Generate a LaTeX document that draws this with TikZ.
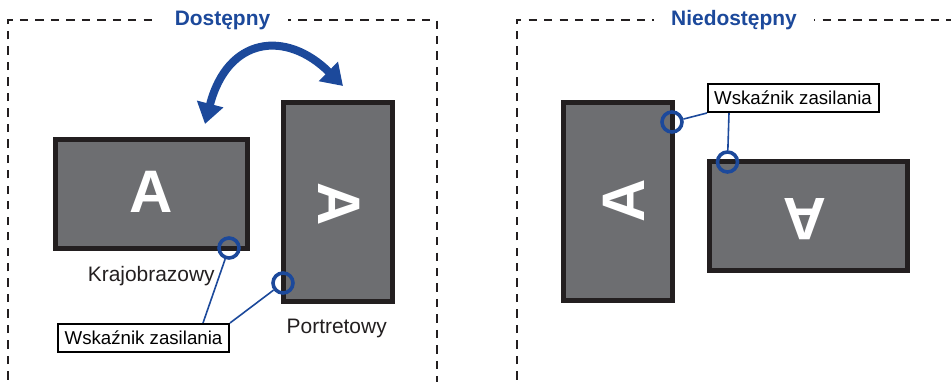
\documentclass[tikz,border=0pt]{standalone}
\usepackage{fontspec}
\setmainfont{Liberation Sans}
\usetikzlibrary{arrows.meta}
\definecolor{iblue}{RGB}{28,73,155}
\definecolor{mgray}{RGB}{109,110,113}
\definecolor{mblack}{RGB}{35,31,32}
\begin{document}
\begin{tikzpicture}[x=0.75pt,y=-0.75pt,
  frame/.style={draw=mblack, line width=1.7pt, dash pattern=on 6.2pt off 5.4pt},
  monitor/.style={draw=mblack, fill=mgray, line width=3.75pt, inner sep=0pt},
  bigA/.style={text=white, font=\fontsize{45}{45}\selectfont\bfseries, inner sep=0pt},
  led/.style={circle, draw=iblue, line width=2.7pt, minimum size=15pt, inner sep=0pt},
  lbl/.style={draw=black, line width=1.5pt, fill=white, font=\fontsize{14}{14}\selectfont,
    text height=10pt, text depth=0pt, minimum width=128.25pt, minimum height=21pt, inner sep=0pt},
  callout/.style={draw=iblue, line width=1.2pt},
  title/.style={text=iblue, font=\fontsize{15.7}{16}\selectfont\bfseries, fill=white,
    inner xsep=13pt, inner ysep=1pt, anchor=base},
  caption/.style={font=\fontsize{15.7}{16}\selectfont, text=mblack, anchor=base},
  rotarrow/.style={draw=iblue, line width=6pt,
    {Triangle[length=15.5pt,width=19.5pt]}-{Triangle[length=15.5pt,width=19.5pt]}}
]
\useasboundingbox (0,0) rectangle (951,382);
\clip (0,0) rectangle (951,382);

% frames
\draw[frame] (8.3,395) -- (8.3,20) -- (437,20) -- (437,395);
\draw[frame] (517,395) -- (517,20) -- (965,20);
\node[title] (t1) at (222.5,26) {Dostępny};
\node[title] (t2) at (734,26) {Niedostępny};

% rotation arrow
\coordinate (r1) at (205,124);
\coordinate (r2) at (343,86);
\draw[rotarrow] (r1) .. controls (227.5,36.7) and (286,29.4) .. (r2);

% monitors
\node[monitor, minimum width=144pt, minimum height=81.75pt] (m1) at (151.5,194) {};
\node[monitor, minimum width=81.75pt, minimum height=149.25pt] (m2) at (338,202) {};
\node[monitor, minimum width=81.75pt, minimum height=148.5pt] (m3) at (618,201.5) {};
\node[monitor, minimum width=148.5pt, minimum height=81.75pt] (m4) at (808.5,216) {};

\node[bigA] (a1) at (151,191.7) {A};
\node[bigA, rotate=-90] (a2) at (339.5,204) {A};
\node[bigA, rotate=90] (a3) at (624.2,201) {A};
\node[bigA, rotate=180] (a4) at (804.5,219.5) {A};

% captions
\node[caption] (cap1) at (151.3,281.7) {Krajobrazowy};
\node[caption] (cap2) at (336.7,333.3) {Portretowy};

% power indicators
\node[led] (c1) at (229,248) {};
\node[led] (c2) at (283,283) {};
\node[led] (c3) at (672,122) {};
\node[led] (c4) at (727.5,162) {};

% connectors
\coordinate (k1) at (203,323);
\coordinate (k2) at (729,113);
\draw[callout] (k1) -- (c1);
\draw[callout] (230,323) coordinate (k3) -- (c2);
\draw[callout] (707,113) coordinate (k4) -- (c3);
\draw[callout] (k2) -- (c4);

% labels
\node[lbl] (l1) at (143.5,338) {Wskaźnik zasilania};
\node[lbl] (l2) at (793,98) {Wskaźnik zasilania};
\end{tikzpicture}
\end{document}
